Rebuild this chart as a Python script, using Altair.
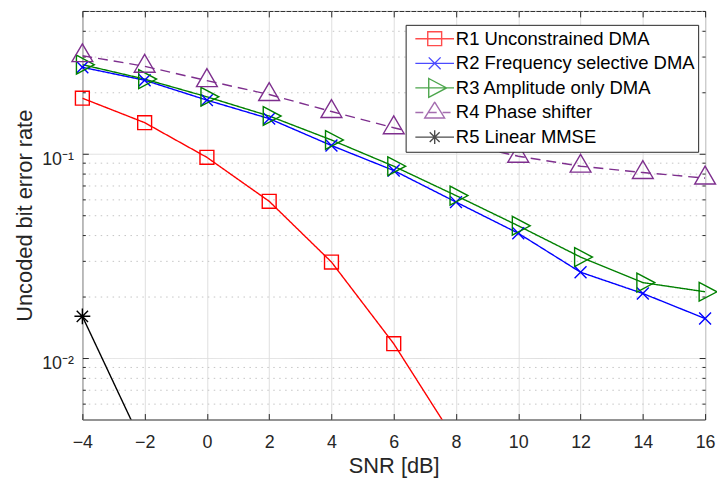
import altair as alt
import pandas as pd

# ---------------- data ----------------
snr = [-4, -2, 0, 2, 4, 6, 8, 10, 12, 14, 16]
r1_snr = [-4, -2, 0, 2, 4, 6, 8]
r1_ber = [0.187, 0.142, 0.096, 0.0585, 0.0295, 0.01175, 0.0039]
r2_ber = [0.265, 0.229, 0.183, 0.1486, 0.1097, 0.0828, 0.058, 0.0408, 0.0263, 0.0207, 0.0156]
r3_ber = [0.273, 0.232, 0.190, 0.153, 0.1168, 0.0869, 0.0624, 0.0444, 0.0312, 0.0234, 0.0211]
r4_ber = [0.302, 0.268, 0.228, 0.195, 0.161, 0.134, 0.114, 0.0972, 0.0869, 0.0809, 0.076]
r5_snr = [-4, -2]
r5_ber = [0.016, 0.0036]

series_names = [
    "R1 Unconstrained DMA",
    "R2 Frequency selective DMA",
    "R3 Amplitude only DMA",
    "R4 Phase shifter",
    "R5 Linear MMSE",
]
series_colors = ["#ff0000", "#0000ff", "#008000", "#7e2f8e", "#000000"]
series_dash = [[1, 0], [1, 0], [1, 0], [10, 6], [1, 0]]

# marker outlines (symbol size 4 -> path units are pixels)
marker_paths = [
    "M-7,-7H7V7H-7Z",
    "M-6,-6L6,6M-6,6L6,-6",
    "M-6,-9.5L12,0L-6,9.5Z",
    "M-10.5,6L0,-12L10.5,6Z",
    "M-8,0H8M0,-8V8M-5.7,-5.7L5.7,5.7M-5.7,5.7L5.7,-5.7",
]
legend_paths = [
    "M-19.5,0H19.5M-7,-7H7V7H-7Z",
    "M-19.5,0H19.5M-6,-6L6,6M-6,6L6,-6",
    "M-19.5,0H19.5M-6,-9.5L12,0L-6,9.5Z",
    "M-19.5,0H-11.5M-6,0H2M8,0H16M-10,5.5L0,-10.5L10,5.5Z",
    "M-19.5,0H19.5M0,-7V7M-5,-5L5,5M-5,5L5,-5",
]

x_ticks = [-4, -2, 0, 2, 4, 6, 8, 10, 12, 14, 16]
y_major = [0.01, 0.1]
y_minor = [0.006, 0.007, 0.008, 0.009,
           0.02, 0.03, 0.04, 0.05, 0.06, 0.07, 0.08, 0.09,
           0.2, 0.3, 0.4, 0.5]
y_floor = 0.005

rows = []
for x, v in zip(r1_snr, r1_ber):
    rows.append({"series": series_names[0], "snr": x, "ber": v})
for x, v in zip(snr, r2_ber):
    rows.append({"series": series_names[1], "snr": x, "ber": v})
for x, v in zip(snr, r3_ber):
    rows.append({"series": series_names[2], "snr": x, "ber": v})
for x, v in zip(snr, r4_ber):
    rows.append({"series": series_names[3], "snr": x, "ber": v})
for x, v in zip(r5_snr, r5_ber):
    rows.append({"series": series_names[4], "snr": x, "ber": v})
df = pd.DataFrame(rows)

# ---------------- style ----------------
FONT = "Liberation Sans"
TXT = "#262626"
W, H = 628, 412

major_test = ("(datum.value > 0.0099 && datum.value < 0.0101) || "
              "(datum.value > 0.099 && datum.value < 0.101)")
label_expr = ("(datum.value > 0.099 && datum.value < 0.101) ? '10\u207b\u00b9' : "
              "((datum.value > 0.0099 && datum.value < 0.0101) ? '10\u207b\u00b2' : '')")

xscale = alt.Scale(domain=[-4, 16], nice=False, zero=False)
yscale = alt.Scale(type="log", domain=[y_floor, 0.5], nice=False)

X1 = alt.Axis(orient="bottom", values=x_ticks, format="d", title="SNR [dB]",
              titleX=W / 2, titleY=53, titleBaseline="alphabetic",
              ticks=False, domain=False, grid=True, gridColor="#dfdfdf", gridWidth=1,
              labelPadding=28, labelBaseline="alphabetic", labelFlush=False, labelOverlap=False)
X2 = alt.Axis(orient="top", offset=-H, values=x_ticks, labels=False, title=None,
              domain=False, grid=False, ticks=True, tickSize=6, tickColor=TXT)
X3 = alt.Axis(orient="bottom", offset=-H, values=x_ticks, labels=False, title=None,
              domain=False, grid=False, ticks=True, tickSize=6, tickColor=TXT)

tick_size = {"condition": {"test": major_test, "value": 6}, "value": 3}
Y1 = alt.Axis(orient="left", values=y_major + y_minor, labelExpr=label_expr,
              title="Uncoded bit error rate", titleX=-51.3, titleY=H / 2,
              titleBaseline="alphabetic", ticks=False, domain=False, grid=True,
              gridColor={"condition": {"test": major_test, "value": "#dfdfdf"}, "value": "#c4c4c4"},
              gridDash={"condition": {"test": major_test, "value": [1, 0]}, "value": [1.5, 4.5]},
              gridWidth=1, labelPadding=9, labelBaseline="alphabetic", labelOffset=11,
              labelOverlap=False, labelFlush=False)
Y3 = alt.Axis(orient="right", offset=-W, values=y_major + y_minor, labels=False, title=None,
              domain=False, grid=False, ticks=True, tickSize=tick_size, tickColor=TXT)
Y5 = alt.Axis(orient="left", offset=-W, values=y_major + y_minor, labels=False, title=None,
              domain=False, grid=False, ticks=True, tickSize=tick_size, tickColor=TXT)

leg = alt.Legend(title=None, orient="none", legendX=326, legendY=14,
                 fillColor="white", strokeColor=TXT, padding=3, cornerRadius=0,
                 labelFont=FONT, labelFontSize=18.6, labelColor="#000000", labelLimit=400,
                 clipHeight=22, rowPadding=2.8, symbolSize=4, symbolStrokeWidth=1.4,
                 symbolOffset=17, labelOffset=12)

color_scale = alt.Scale(domain=series_names, range=series_colors)

base = alt.Chart(df)

lines = base.mark_line(clip=True, strokeWidth=1.4).encode(
    x=alt.X("snr:Q", scale=xscale, axis=X1),
    y=alt.Y("ber:Q", scale=yscale, axis=Y1),
    color=alt.Color("series:N", scale=color_scale, legend=None),
    strokeDash=alt.StrokeDash("series:N", scale=alt.Scale(domain=series_names, range=series_dash), legend=None),
)

points = base.transform_filter(f"datum.ber >= {y_floor}").mark_point(
    filled=False, size=4, strokeWidth=1.4, opacity=1).encode(
    x=alt.X("snr:Q", scale=xscale, axis=X2),
    y=alt.Y("ber:Q", scale=yscale, axis=Y3),
    color=alt.Color("series:N", scale=color_scale, legend=None),
    shape=alt.Shape("series:N", scale=alt.Scale(domain=series_names, range=marker_paths), legend=None),
)

legend_layer = base.transform_filter("false").mark_point(filled=False, size=4, strokeWidth=1.4).encode(
    x=alt.X("snr:Q", scale=xscale, axis=X3),
    y=alt.Y("ber:Q", scale=yscale, axis=Y5),
    color=alt.Color("series:N", scale=color_scale, legend=leg),
    shape=alt.Shape("series:N", scale=alt.Scale(domain=series_names, range=legend_paths), legend=leg),
)

chart = (
    alt.layer(lines, points, legend_layer)
    .resolve_scale(color="independent", shape="independent")
    .resolve_axis(x="independent", y="independent")
    .properties(width=W, height=H,
                autosize=alt.AutoSizeParams(type="none"),
                padding={"left": 75, "top": 1, "right": 12, "bottom": 57})
    .configure_view(stroke=TXT, strokeWidth=1)
    .configure_axis(labelFont=FONT, titleFont=FONT, labelColor=TXT, titleColor=TXT,
                    labelFontSize=18, titleFontSize=22, titleFontWeight="normal")
)

chart.save("out.html", embed_options={"renderer": "svg", "actions": False})
